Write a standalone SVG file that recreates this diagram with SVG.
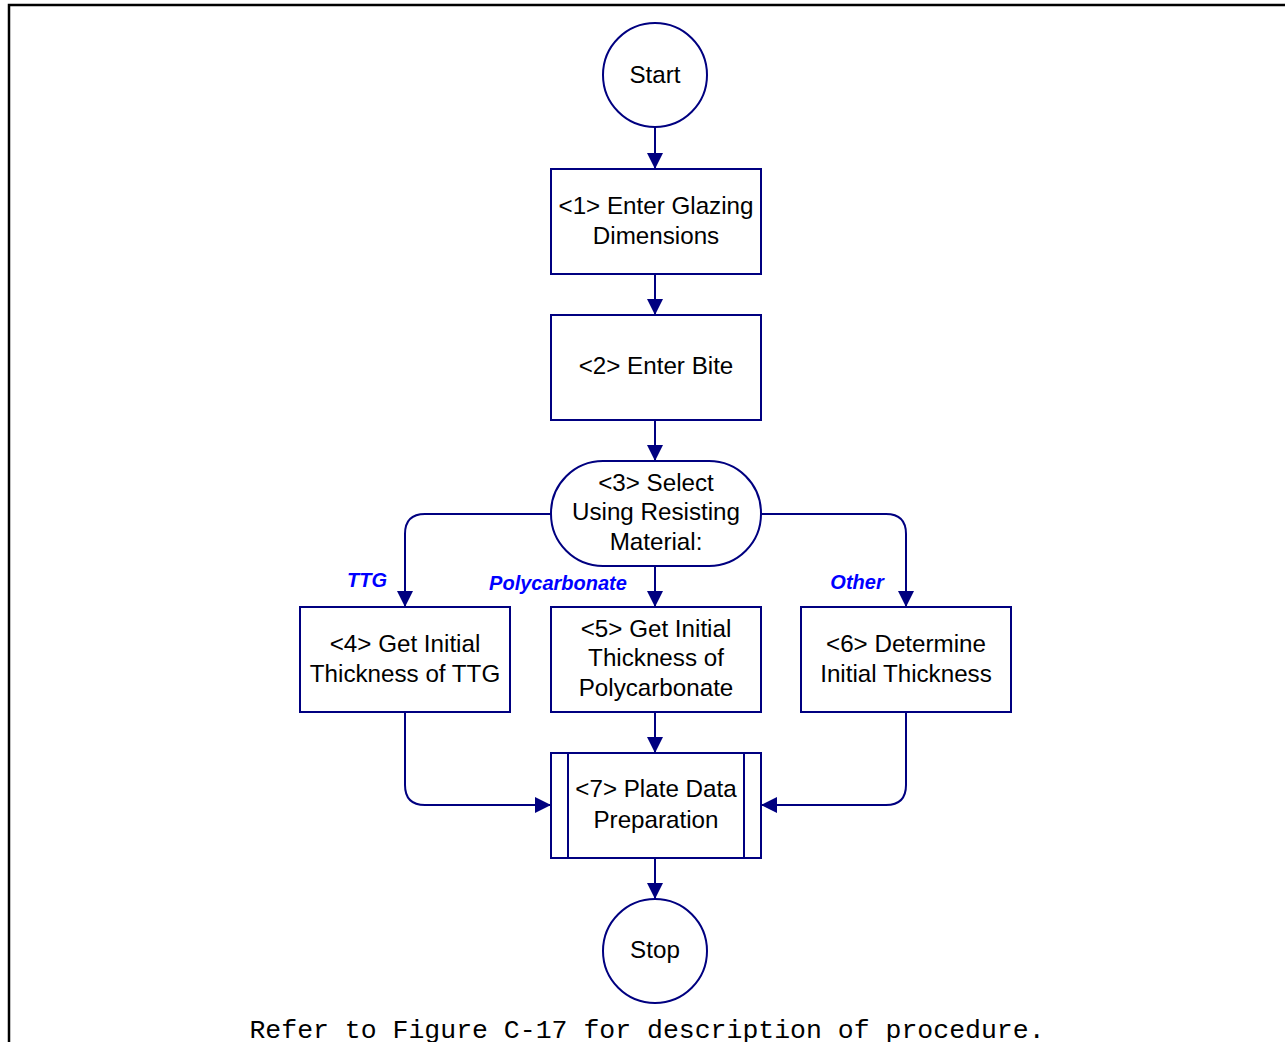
<svg xmlns="http://www.w3.org/2000/svg" width="1285" height="1042" viewBox="0 0 1285 1042">
<style>
.n{fill:#fff;stroke:#000080;stroke-width:2}
.t{font-family:"Liberation Sans",Arial,sans-serif;font-size:24.2px;fill:#000;text-anchor:middle}
.l{font-family:"Liberation Sans",Arial,sans-serif;font-size:20px;font-weight:bold;font-style:italic;fill:#0000ff;text-anchor:middle}
.c{fill:none;stroke:#000080;stroke-width:2}
</style>
<defs>
<marker id="a" viewBox="0 0 16 16" refX="16" refY="8" markerWidth="16" markerHeight="16" markerUnits="userSpaceOnUse" orient="auto">
<path d="M0,0 L16,8 L0,16 Z" fill="#000080"/>
</marker>
</defs>
<rect width="1285" height="1042" fill="#fff"/>
<path d="M9,1042 V5 H1285" fill="none" stroke="#000" stroke-width="2.5"/>
<g id="connectors">
<path class="c" d="M655,127 V169" marker-end="url(#a)"/>
<path class="c" d="M655,274 V315" marker-end="url(#a)"/>
<path class="c" d="M655,420 V461" marker-end="url(#a)"/>
<path class="c" d="M655,566 V607" marker-end="url(#a)"/>
<path class="c" d="M551,514 H425 Q405,514 405,534 V607" marker-end="url(#a)"/>
<path class="c" d="M761,514 H886 Q906,514 906,534 V607" marker-end="url(#a)"/>
<path class="c" d="M655,712 V753" marker-end="url(#a)"/>
<path class="c" d="M405,712 V785 Q405,805 425,805 H551" marker-end="url(#a)"/>
<path class="c" d="M906,712 V785 Q906,805 886,805 H761" marker-end="url(#a)"/>
<path class="c" d="M655,858 V899" marker-end="url(#a)"/>
</g>
<g id="start"><circle class="n" cx="655" cy="75" r="52"/><text class="t" x="655" y="83">Start</text></g>
<g id="n1"><rect class="n" x="551" y="169" width="210" height="105"/><text class="t" x="656" y="214">&lt;1&gt; Enter Glazing</text><text class="t" x="656" y="244">Dimensions</text></g>
<g id="n2"><rect class="n" x="551" y="315" width="210" height="105"/><text class="t" x="656" y="374">&lt;2&gt; Enter Bite</text></g>
<g id="n3"><rect class="n" x="551" y="461" width="210" height="105" rx="52" ry="52"/><text class="t" x="656" y="491">&lt;3&gt; Select</text><text class="t" x="656" y="520">Using Resisting</text><text class="t" x="656" y="550">Material:</text></g>
<g id="n4"><rect class="n" x="300" y="607" width="210" height="105"/><text class="t" x="405" y="652">&lt;4&gt; Get Initial</text><text class="t" x="405" y="682">Thickness of TTG</text></g>
<g id="n5"><rect class="n" x="551" y="607" width="210" height="105"/><text class="t" x="656" y="637">&lt;5&gt; Get Initial</text><text class="t" x="656" y="666">Thickness of</text><text class="t" x="656" y="696">Polycarbonate</text></g>
<g id="n6"><rect class="n" x="801" y="607" width="210" height="105"/><text class="t" x="906" y="652">&lt;6&gt; Determine</text><text class="t" x="906" y="682">Initial Thickness</text></g>
<g id="n7"><rect class="n" x="551" y="753" width="210" height="105"/><line class="c" x1="568" y1="753" x2="568" y2="858"/><line class="c" x1="744" y1="753" x2="744" y2="858"/><text class="t" x="656" y="797">&lt;7&gt; Plate Data</text><text class="t" x="656" y="828">Preparation</text></g>
<g id="stop"><circle class="n" cx="655" cy="951" r="52"/><text class="t" x="655" y="958">Stop</text></g>
<g id="labels">
<text class="l" x="367" y="587">TTG</text>
<text class="l" x="558" y="590">Polycarbonate</text>
<text class="l" x="857" y="589">Other</text>
</g>
<text x="647" y="1038" font-family="'Liberation Mono','Courier New',monospace" font-size="26.5" text-anchor="middle" fill="#000">Refer to Figure C-17 for description of procedure.</text>
</svg>
